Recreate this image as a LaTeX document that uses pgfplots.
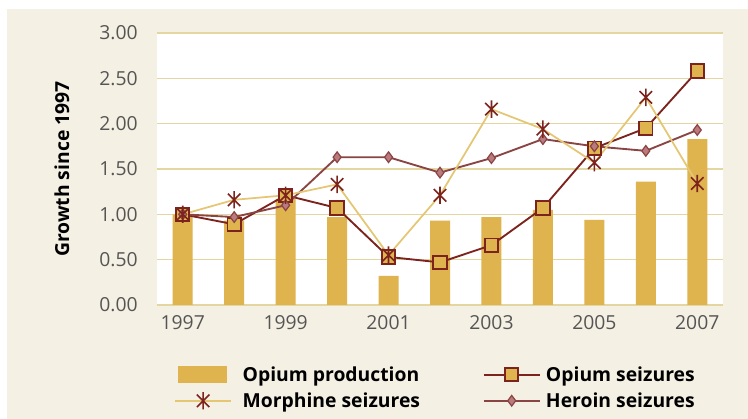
\documentclass[border=0pt]{standalone}
\usepackage{pgfplots}
\pgfplotsset{compat=1.18}
\usepackage{fontspec}
\setmainfont{Open Sans}
\usetikzlibrary{backgrounds,calc}
\definecolor{bgc}{RGB}{245,240,228}
\definecolor{gridc}{RGB}{228,214,160}
\definecolor{barc}{RGB}{223,179,78}
\definecolor{opc}{RGB}{125,35,30}
\definecolor{herc}{RGB}{138,68,68}
\definecolor{herf}{RGB}{186,122,126}
\definecolor{morc}{RGB}{228,198,115}
\definecolor{tickc}{RGB}{85,85,85}
% asterisk drawn as an X crossed by a vertical stroke
\pgfdeclareplotmark{xstar}{%
  \pgfpathmoveto{\pgfqpoint{0pt}{-\pgfplotmarksize}}%
  \pgfpathlineto{\pgfqpoint{0pt}{\pgfplotmarksize}}%
  \pgfpathmoveto{\pgfqpoint{-0.72\pgfplotmarksize}{-0.72\pgfplotmarksize}}%
  \pgfpathlineto{\pgfqpoint{0.72\pgfplotmarksize}{0.72\pgfplotmarksize}}%
  \pgfpathmoveto{\pgfqpoint{-0.72\pgfplotmarksize}{0.72\pgfplotmarksize}}%
  \pgfpathlineto{\pgfqpoint{0.72\pgfplotmarksize}{-0.72\pgfplotmarksize}}%
  \pgfusepathqstroke}
\pgfplotsset{
  lineleg/.style={legend image code/.code={%
    \draw[##1, mark repeat=2, mark phase=2] plot coordinates {(0pt,0pt)(21pt,0pt)(42pt,0pt)};}},
  barleg/.style={legend image code/.code={\fill[barc] (2pt,-6pt) rectangle (38pt,6pt);}},
}

\pgfplotstableread{
year prod opium morph heroin
1997 1.00 1.00 1.00 1.00
1998 0.93 0.89 1.16 0.97
1999 1.17 1.21 1.21 1.10
2000 0.97 1.07 1.33 1.63
2001 0.32 0.53 0.55 1.63
2002 0.93 0.47 1.21 1.46
2003 0.97 0.66 2.16 1.62
2004 1.05 1.07 1.94 1.83
2005 0.94 1.73 1.57 1.75
2006 1.36 1.95 2.29 1.70
2007 1.83 2.58 1.34 1.93
}\datatable

\begin{document}
\begin{tikzpicture}
\begin{axis}[
  name=ax,
  scale only axis, width=424.5pt, height=204pt,
  xmin=1996.5, xmax=2007.5, ymin=0, ymax=3,
  xtick={1997,1999,2001,2003,2005,2007},
  ytick={0,0.5,1,1.5,2,2.5,3},
  /pgf/number format/1000 sep={},
  /pgf/number format/assume math mode=true,
  yticklabel style={/pgf/number format/fixed, /pgf/number format/fixed zerofill,
    /pgf/number format/precision=2, xshift=-11pt},
  ticklabel style={font=\fontsize{14.5}{16}\selectfont, text=tickc},
  xticklabel style={yshift=-4pt},
  major tick length=0pt,
  axis line style={draw=none},
  axis background/.style={fill=white},
  ymajorgrids, grid style={draw=gridc, line width=1.1pt},
  ylabel={Growth since 1997},
  ylabel style={font=\fontsize{14.5}{16}\selectfont\bfseries, text=black,
    at={(axis description cs:-0.168,0.5)}, anchor=center},
  legend columns=2,
  legend style={draw=none, fill=none, at={(axis description cs:0.03,-0.215)},
    anchor=north west, font=\fontsize{14.5}{16}\selectfont\bfseries,
    row sep=3pt, inner sep=0pt,
    /tikz/column 2/.style={column sep=45pt},
    /tikz/column 1/.style={column sep=6pt},
    /tikz/column 3/.style={column sep=2pt}},
  legend cell align=left,
  clip=false,
]
\addlegendimage{barleg}
\addlegendimage{opc, line width=1.4pt, mark=square*, mark size=5pt,
  mark options={fill=barc, draw=opc, line width=1.4pt}, lineleg}
\addlegendimage{morc, line width=1.3pt, mark=xstar, mark size=6.5pt,
  mark options={draw=opc, line width=1.2pt}, lineleg}
\addlegendimage{herc, line width=1.4pt, mark=diamond*, mark size=4pt,
  mark options={fill=herf, draw=herc, line width=0.9pt}, lineleg}
\legend{Opium production, Opium seizures, Morphine seizures, Heroin seizures}

\addplot[ybar, bar width=15pt, fill=barc, draw=none, forget plot] table[x=year, y=prod] {\datatable};
\addplot[opc, line width=1.4pt, mark=square*, mark size=5pt,
  mark options={fill=barc, draw=opc, line width=1.4pt}, forget plot] table[x=year, y=opium] {\datatable};
\addplot[herc, line width=1.4pt, mark=diamond*, mark size=4pt,
  mark options={fill=herf, draw=herc, line width=0.9pt}, forget plot] table[x=year, y=heroin] {\datatable};
\addplot[morc, line width=1.3pt, mark=xstar, mark size=6.5pt,
  mark options={draw=opc, line width=1.2pt}, forget plot] table[x=year, y=morph] {\datatable};
\end{axis}
\begin{scope}[on background layer]
\fill[bgc] ($(ax.south west)+(-112.5pt,-85.5pt)$) rectangle ($(ax.north east)+(18.75pt,18pt)$);
\path ($(ax.south west)+(-117.75pt,-85.5pt)$) rectangle ($(ax.north east)+(18.75pt,24.75pt)$);
\end{scope}
\end{tikzpicture}
\end{document}
